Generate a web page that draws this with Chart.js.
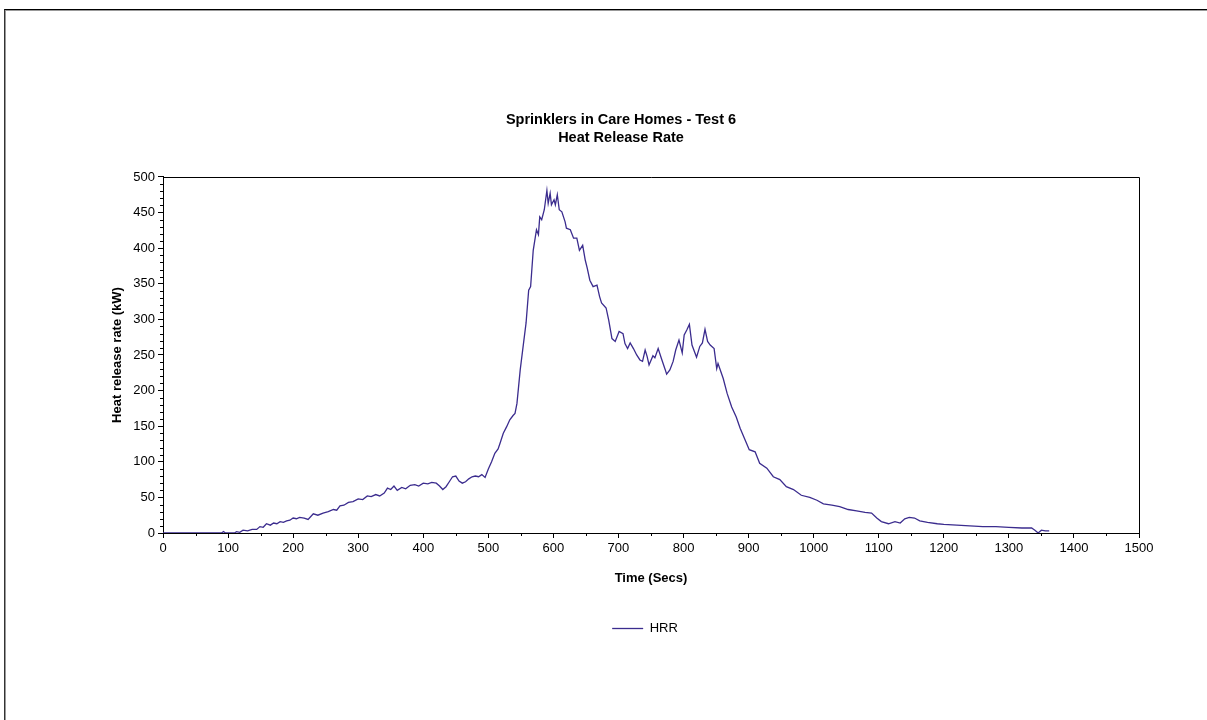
<!DOCTYPE html>
<html>
<head>
<meta charset="utf-8">
<script src="https://cdn.jsdelivr.net/npm/chart.js@4/dist/chart.umd.min.js"></script>
<style>
  html, body { margin: 0; padding: 0; background: #fff; }
  body { width: 1207px; height: 720px; position: relative; overflow: hidden; }
  .frame { position: absolute; left: 4px; top: 9px; right: 0; bottom: 0; border-top: 1px solid #000; border-left: 1px solid #333; }
  .frame-inner { position: absolute; left: 0; top: 0; right: 0; bottom: 0; border-top: 1px solid #999; border-left: 1px solid #999; }
  #hrr-chart { position: absolute; left: 0; top: 0; }
</style>
</head>
<body>
<div class="frame"><div class="frame-inner"></div></div>
<canvas id="hrr-chart" width="1207" height="720"></canvas>
<script>
const CHART_TITLE = ['Sprinklers in Care Homes - Test 6', 'Heat Release Rate'];
const X_TITLE = 'Time (Secs)';
const Y_TITLE = 'Heat release rate (kW)';
const SERIES_NAME = 'HRR';

// time (s)
const times = [
  0, 50, 90, 93, 96, 110, 113, 118, 123, 130, 137, 144, 149, 154, 159, 165, 170, 175, 180, 185,
  190, 195, 200, 205, 210, 217, 223, 231, 238, 246, 254, 262, 267, 272, 278, 285, 292, 300, 307, 314,
  320, 327, 333, 340, 345, 350, 355, 360, 367, 373, 380, 387, 393, 400, 407, 413, 420, 425, 430, 435,
  440, 445, 450, 455, 460, 465, 470, 475, 480, 485, 490, 495, 500, 505, 510, 515, 518, 523, 528, 533,
  538, 541, 544, 549, 554, 558, 562, 565, 569, 574, 577, 579, 582, 586, 590, 592, 595, 597, 601, 603,
  606, 609, 613, 618, 620, 626, 631, 636, 640, 645, 649, 652, 656, 661, 667, 671, 674, 681, 685, 690,
  695, 701, 707, 710, 714, 718, 723, 728, 733, 737, 741, 744, 747, 753, 756, 761, 766, 772, 774, 779,
  784, 788, 793, 798, 801, 805, 809, 813, 820, 825, 829, 833, 837, 841, 847, 851, 853, 861, 867, 874,
  881, 887, 894, 901, 910, 917, 928, 938, 948, 958, 969, 981, 994, 1005, 1015, 1028, 1040, 1053, 1066, 1079,
  1089, 1097, 1104, 1115, 1125, 1133, 1140, 1147, 1155, 1163, 1175, 1190, 1200, 1220, 1240, 1260, 1280, 1300, 1320, 1335,
  1340, 1345, 1350, 1356, 1362
];

// heat release rate (kW) at each time above
const hrr = [
  0, 0, 0, 2, 0, 0, 2, 1, 4, 3, 5, 5, 9, 8, 13, 11, 14, 13, 16, 15,
  17, 18, 21, 20, 22, 21, 19, 27, 25, 28, 30, 33, 32, 38, 39, 43, 44, 48, 47, 52,
  51, 54, 52, 56, 63, 61, 66, 60, 64, 62, 67, 68, 66, 70, 69, 71, 70, 66, 61, 65,
  72, 79, 80, 73, 70, 72, 76, 79, 80, 79, 82, 78, 90, 100, 112, 118, 126, 140, 149, 159,
  165, 168, 182, 229, 266, 295, 341, 346, 397, 426, 419, 444, 440, 454, 481, 463, 477, 461, 468, 461,
  475, 454, 451, 437, 428, 426, 414, 414, 397, 404, 383, 372, 355, 346, 348, 332, 323, 316, 299, 273,
  269, 283, 280, 266, 259, 267, 259, 250, 243, 241, 257, 248, 236, 249, 246, 259, 245, 229, 223, 229,
  241, 257, 271, 253, 278, 285, 293, 264, 247, 262, 267, 286, 269, 264, 259, 231, 238, 217, 196, 177,
  163, 147, 132, 117, 114, 98, 91, 79, 75, 65, 61, 53, 50, 46, 41, 39, 37, 33, 31, 29,
  28, 21, 16, 13, 16, 14, 20, 22, 21, 17, 15, 13, 12, 11, 10, 9, 9, 8, 7, 7,
  4, 0, 4, 3, 3
];

const X_MAX = 1500;
const Y_MAX = 500;
const FONT = 'Liberation Sans, Arial, sans-serif';
const LINE_COLOR = '#3b2c8e';

// short ticks between the labelled ones, like the original
const minorTicks = {
  id: 'minorTicks',
  afterDraw(chart) {
    const ctx = chart.ctx;
    const xs = chart.scales.x;
    const ys = chart.scales.y;
    ctx.save();
    ctx.strokeStyle = '#000';
    ctx.lineWidth = 1;
    ctx.beginPath();
    xs.ticks.forEach(t => {
      if (t.value % 100 !== 0) {
        const px = Math.round(xs.getPixelForValue(t.value)) + 0.5;
        ctx.moveTo(px, xs.top);
        ctx.lineTo(px, xs.top + 3);
      }
    });
    ys.ticks.forEach(t => {
      if (t.value % 50 !== 0) {
        const py = Math.round(ys.getPixelForValue(t.value)) + 0.5;
        ctx.moveTo(ys.right, py);
        ctx.lineTo(ys.right - 3, py);
      }
    });
    ctx.stroke();
    // top and right edge of the plot box
    const a = chart.chartArea;
    ctx.beginPath();
    ctx.moveTo(Math.round(a.left), Math.round(a.top) + 0.5);
    ctx.lineTo(Math.round(a.right) + 0.5, Math.round(a.top) + 0.5);
    ctx.lineTo(Math.round(a.right) + 0.5, Math.round(a.bottom));
    ctx.stroke();
    ctx.restore();
  }
};

// the legend sits a little right of the title in the original
const legendShift = {
  id: 'legendShift',
  afterLayout(chart) {
    if (chart.legend) chart.legend.left += 48;
  }
};

const tickColor = (ctx, major) => (ctx.tick && ctx.tick.value % major === 0) ? '#000' : 'rgba(0,0,0,0)';

new Chart(document.getElementById('hrr-chart'), {
  type: 'line',
  data: {
    datasets: [{
      label: SERIES_NAME,
      data: times.map((t, i) => ({ x: t, y: hrr[i] })),
      borderColor: LINE_COLOR,
      backgroundColor: LINE_COLOR,
      borderWidth: 1.3,
      pointRadius: 0,
      tension: 0,
      fill: false
    }]
  },
  plugins: [minorTicks, legendShift],
  options: {
    responsive: false,
    animation: false,
    devicePixelRatio: 1,
    layout: { padding: { left: 103, right: 68, top: 100, bottom: 75 } },
    scales: {
      x: {
        type: 'linear',
        min: 0,
        max: X_MAX,
        afterFit(scale) { scale.height = 79; },
        border: { color: '#000', width: 1 },
        grid: { drawOnChartArea: false, tickLength: 5, tickColor: c => tickColor(c, 100) },
        ticks: {
          stepSize: 50,
          autoSkip: false,
          maxRotation: 0,
          color: '#000',
          font: { family: FONT, size: 13 },
          callback: v => (v % 100 === 0 ? String(v) : '')
        },
        title: {
          display: true,
          text: X_TITLE,
          color: '#000',
          font: { family: FONT, size: 13, weight: 'bold' },
          padding: { top: 0, bottom: 26 }
        }
      },
      y: {
        type: 'linear',
        min: 0,
        max: Y_MAX,
        afterFit(scale) { scale.width = 60; },
        border: { color: '#000', width: 1 },
        grid: { drawOnChartArea: false, tickLength: 5, tickColor: c => tickColor(c, 50) },
        ticks: {
          stepSize: 10,
          autoSkip: false,
          color: '#000',
          font: { family: FONT, size: 13 },
          callback: v => (v % 50 === 0 ? String(v) : '')
        },
        title: {
          display: true,
          text: Y_TITLE,
          color: '#000',
          font: { family: FONT, size: 13, weight: 'bold' },
          padding: { top: 7, bottom: 0 }
        }
      }
    },
    plugins: {
      title: {
        display: true,
        text: CHART_TITLE,
        color: '#000',
        font: { family: FONT, size: 14.5, weight: 'bold', lineHeight: 1.24 },
        padding: { top: 11, bottom: 30 }
      },
      legend: {
        display: true,
        position: 'bottom',
        labels: {
          usePointStyle: true,
          pointStyle: 'line',
          pointStyleWidth: 31,
          padding: 10,
          color: '#000',
          font: { family: FONT, size: 13 }
        }
      },
      tooltip: { enabled: false }
    }
  }
});
</script>
</body>
</html>
